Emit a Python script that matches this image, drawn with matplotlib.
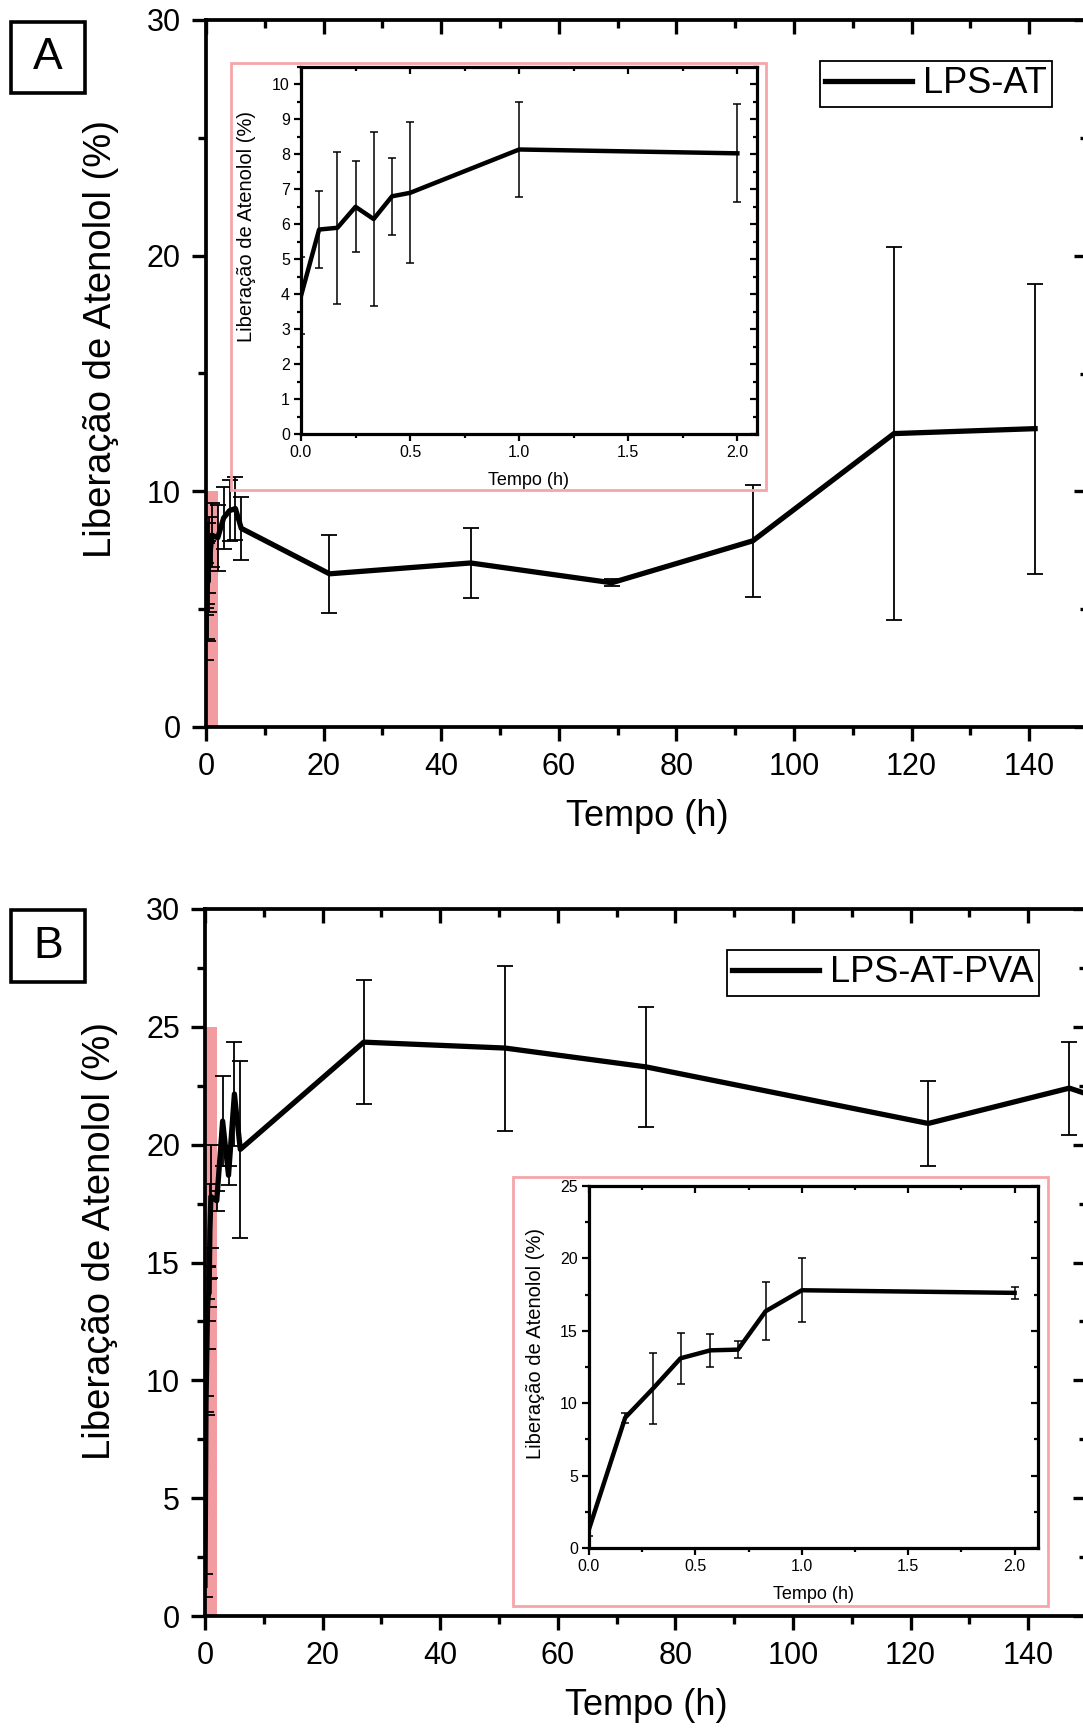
import matplotlib
matplotlib.use('Agg')
import matplotlib.pyplot as plt
from matplotlib.patches import Rectangle
from matplotlib.ticker import MultipleLocator
import numpy as np

plt.rcParams['font.family'] = ['Liberation Sans', 'DejaVu Sans']

# ---------------- data ----------------
time_A = [0, 0.083, 0.167, 0.25, 0.333, 0.417, 0.5, 1, 2, 3, 4, 5, 6, 21, 45, 69, 93, 117, 141]
rel_A = [3.95, 5.85, 5.9, 6.5, 6.15, 6.8, 6.9, 8.14, 8.03, 8.87, 9.18, 9.27, 8.43,
         6.5, 6.96, 6.12, 7.9, 12.45, 12.66]
err_A = [1.1, 1.11, 2.17, 1.3, 2.5, 1.1, 2.02, 1.35, 1.4, 1.33, 1.28, 1.34, 1.35,
         1.65, 1.5, 0.15, 2.38, 7.9, 6.15]

time_B = [0, 0.17, 0.30, 0.43, 0.57, 0.70, 0.83, 1, 2, 3, 4, 5, 6, 27, 51, 75, 123, 147, 171]
rel_B = [1.3, 9.0, 11.0, 13.1, 13.65, 13.7, 16.35, 17.8, 17.62, 21.0, 18.7, 22.15, 19.8,
         24.35, 24.1, 23.3, 20.9, 22.4, 20.4]
err_B = [0.5, 0.35, 2.45, 1.75, 1.15, 0.6, 2.0, 2.2, 0.43, 1.9, 0.4, 2.2, 3.77,
         2.63, 3.5, 2.55, 1.8, 1.97, 2.0]

label_A = 'LPS-AT'
label_B = 'LPS-AT-PVA'
panel_A = 'A'
panel_B = 'B'
ylabel = 'Liberação de Atenolol (%)'
xlabel = 'Tempo (h)'

inset_tmax = 2.0          # inset shows the first 2 h
zoom_ymax_A = 10          # highlighted region height (panel A)
zoom_ymax_B = 25          # highlighted region height (panel B)

PINK = '#f29ca2'
PINK_FRAME = '#f4a6aa'

W, H = 1083, 1728
fig = plt.figure(figsize=(W / 100, H / 100), dpi=100)


def rect(l, t, r, b):
    return [l / W, 1 - b / H, (r - l) / W, (b - t) / H]


def style_axes(ax, xmaj, xmin, ymaj, ymin, lw, majlen, minlen, tw, fs, pad):
    for s in ax.spines.values():
        s.set_linewidth(lw)
    ax.spines['top'].set_visible(False)
    ax.spines['right'].set_visible(False)
    ax.xaxis.set_major_locator(MultipleLocator(xmaj))
    ax.xaxis.set_minor_locator(MultipleLocator(xmin))
    ax.yaxis.set_major_locator(MultipleLocator(ymaj))
    ax.yaxis.set_minor_locator(MultipleLocator(ymin))
    ax.tick_params(which='both', direction='out', width=tw, labelsize=fs, pad=pad)
    ax.tick_params(which='major', length=majlen)
    ax.tick_params(which='minor', length=minlen)
    top = ax.secondary_xaxis('top')
    top.xaxis.set_major_locator(MultipleLocator(xmaj))
    top.xaxis.set_minor_locator(MultipleLocator(xmin))
    top.tick_params(which='both', direction='in', width=tw, labeltop=False)
    top.tick_params(which='major', length=majlen)
    top.tick_params(which='minor', length=minlen)
    top.spines['top'].set_linewidth(lw)
    right = ax.secondary_yaxis('right')
    right.yaxis.set_major_locator(MultipleLocator(ymaj))
    right.yaxis.set_minor_locator(MultipleLocator(ymin))
    right.tick_params(which='both', direction='in', width=tw, labelright=False)
    right.tick_params(which='major', length=majlen)
    right.tick_params(which='minor', length=minlen)
    right.spines['right'].set_linewidth(lw)


def main_panel(pos, t, v, e, ymax, ymaj, ymin, zoom_ymax, label, leg_anchor, leg_fs,
               ylab_y):
    ax = fig.add_axes(rect(*pos))
    ax.fill_between([0, inset_tmax], 0, zoom_ymax, color=PINK, lw=0, zorder=1)
    ax.errorbar(t, v, yerr=e, fmt='none', ecolor='k', elinewidth=1.3,
                capsize=5.5, capthick=1.3, zorder=2, clip_on=True)
    ax.plot(t, v, '-', color='k', lw=3.8, zorder=3, label=label,
            solid_joinstyle='round')
    ax.set_xlim(0, 150)
    ax.set_ylim(0, ymax)
    style_axes(ax, 20, 10, ymaj, ymin, 2.7, 10, 6, 2.4, 22, 8)
    ax.set_xlabel(xlabel, fontsize=26)
    ax.set_ylabel(ylabel, fontsize=27.5)
    ax.xaxis.set_label_coords(0.5, -0.127)
    ax.xaxis.label.set_va('center')
    ax.yaxis.set_label_coords(-0.119, ylab_y)
    ax.yaxis.label.set_va('center')
    leg = ax.legend(loc='upper right', bbox_to_anchor=(leg_anchor[0] / W, 1 - leg_anchor[1] / H),
                    bbox_transform=fig.transFigure, fontsize=leg_fs, frameon=True,
                    fancybox=False, framealpha=1, edgecolor='k', borderpad=0.15,
                    handlelength=2.4, handletextpad=0.3, borderaxespad=0)
    leg.get_frame().set_linewidth(1.3)
    return ax


def inset_panel(pos, frame, t, v, e, xmax, ymax, ymaj, ymin, ylab_y):
    l, tp, r, b = frame
    fig.patches.append(Rectangle((l / W, 1 - b / H), (r - l) / W, (b - tp) / H,
                                 transform=fig.transFigure, fill=False,
                                 edgecolor=PINK_FRAME, lw=2, zorder=1))
    ax = fig.add_axes(rect(*pos))
    ti = [x for x in t if x <= inset_tmax]
    n = len(ti)
    ax.errorbar(ti, v[:n], yerr=e[:n], fmt='none', ecolor='k', elinewidth=1.1,
                capsize=3, capthick=1.1, zorder=2)
    ax.plot(ti, v[:n], '-', color='k', lw=3.2, zorder=3, solid_joinstyle='round')
    ax.set_xlim(0, xmax)
    ax.set_ylim(0, ymax)
    style_axes(ax, 0.5, 0.25, ymaj, ymin, 2.3, 5, 3, 1.6, 11.5, 3)
    ax.set_xlabel(xlabel, fontsize=13)
    ax.set_ylabel(ylabel, fontsize=14.5)
    ax.xaxis.set_label_coords(0.5, -0.128)
    ax.xaxis.label.set_va('center')
    ax.yaxis.set_label_coords(-0.12, ylab_y)
    ax.yaxis.label.set_va('center')
    return ax


def panel_tag(text, l, t, r, b):
    fig.patches.append(Rectangle((l / W, 1 - b / H), (r - l) / W, (b - t) / H,
                                 transform=fig.transFigure, fill=False,
                                 edgecolor='k', lw=2.6, zorder=2))
    fig.text((l + r) / 2 / W, 1 - (t + b) / 2 / H, text, fontsize=32,
             ha='center', va='center')


# ---------------- panel A ----------------
main_panel((206, 20, 1088, 727), time_A, rel_A, err_A, 30, 10, 5, zoom_ymax_A,
           label_A, (1052, 61), 26, 0.549)
inset_panel((301, 67, 757, 434), (231, 63, 766, 490), time_A, rel_A, err_A,
            2.09, 10.5, 1, 0.5, 0.566)
panel_tag(panel_A, 11, 22, 85, 93)

# ---------------- panel B ----------------
main_panel((205, 909, 1087, 1616), time_B, rel_B, err_B, 30, 5, 2.5, zoom_ymax_B,
           label_B, (1039, 950), 26, 0.53)
inset_panel((589, 1186, 1038, 1548), (513, 1177, 1048, 1606), time_B, rel_B, err_B,
            2.11, 25, 5, 2.5, 0.564)
panel_tag(panel_B, 11, 910, 85, 982)

fig.savefig('out.png', dpi=100)
